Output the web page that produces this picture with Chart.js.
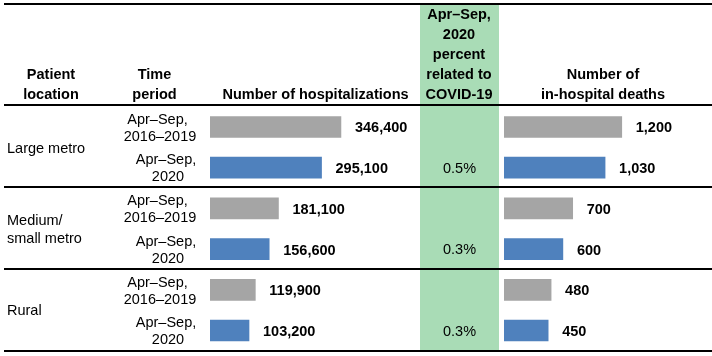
<!DOCTYPE html>
<html>
<head>
<meta charset="utf-8">
<script src="https://cdn.jsdelivr.net/npm/chart.js@4/dist/chart.umd.min.js"></script>
<style>
html,body{margin:0;padding:0;background:#fff;}
#wrap{position:relative;width:712px;height:356px;}
#wrap canvas{position:absolute;left:0;top:0;}
</style>
</head>
<body>
<div id="wrap">
<canvas id="c1" width="712" height="356"></canvas>
<canvas id="c2" width="712" height="356"></canvas>
</div>
<script>
// ---- data ----
const locations = [['Large metro'], ['Medium/', 'small metro'], ['Rural']];
const periods = [['Apr\u2013Sep,', '2016\u20132019'], ['Apr\u2013Sep,', '2020']];
const hospBaseline = [346400, 181100, 119900];
const hosp2020 = [295100, 156600, 103200];
const deathsBaseline = [1200, 700, 480];
const deaths2020 = [1030, 600, 450];
const covidPct = ['0.5%', '0.3%', '0.3%'];
const headerLocation = ['Patient', 'location'];
const headerPeriod = ['Time', 'period'];
const headerHosp = ['Number of hospitalizations'];
const headerPct = ['Apr\u2013Sep,', '2020', 'percent', 'related to', 'COVID-19'];
const headerDeaths = ['Number of', 'in-hospital deaths'];

const GRAY = '#A5A5A5', BLUE = '#4F81BD', GREEN = '#A9DCB6';
const FONT = '"Liberation Sans", Arial, sans-serif';
const FS = 14.5;

// rows: baseline & 2020 interleaved per location
const rowLabels = [];
const hospValues = [], deathValues = [], colors = [];
locations.forEach((loc, i) => {
  rowLabels.push(loc.join(' ') + ' ' + periods[0].join(' '));
  rowLabels.push(loc.join(' ') + ' ' + periods[1].join(' '));
  hospValues.push(hospBaseline[i], hosp2020[i]);
  deathValues.push(deathsBaseline[i], deaths2020[i]);
  colors.push(GRAY, BLUE);
});

const fmt = v => v.toLocaleString('en-US');

const valueLabels = {
  id: 'valueLabels',
  afterDatasetsDraw(chart) {
    const ctx = chart.ctx;
    const meta = chart.getDatasetMeta(0);
    ctx.save();
    ctx.font = 'bold ' + FS + 'px ' + FONT;
    ctx.fillStyle = '#000';
    ctx.textAlign = 'left';
    ctx.textBaseline = 'alphabetic';
    meta.data.forEach((bar, i) => {
      const v = chart.data.datasets[0].data[i];
      ctx.fillText(fmt(v), bar.x + 14, bar.y + 5.5);
    });
    ctx.restore();
  }
};

// table decorations (drawn on first chart, using its y scale for row positions)
const tablePlugin = {
  id: 'tablePlugin',
  beforeDraw(chart) {
    const ctx = chart.ctx;
    ctx.save();
    ctx.fillStyle = GREEN;
    ctx.fillRect(420, 4, 79, 348);
    ctx.restore();
  },
  afterDraw(chart) {
    const ctx = chart.ctx;
    const y = chart.scales.y;
    ctx.save();
    ctx.fillStyle = '#000';
    // lines
    const lines = [[3, 5], [104, 106], [186, 188], [268, 270], [350, 352]];
    lines.forEach(([a, b]) => ctx.fillRect(4, a, 708, b - a));

    // header text
    ctx.font = 'bold ' + FS + 'px ' + FONT;
    ctx.textAlign = 'center';
    ctx.textBaseline = 'alphabetic';
    const drawBlock = (arr, x, lastBaseline, step) => {
      const n = arr.length;
      arr.forEach((t, k) => ctx.fillText(t, x, lastBaseline - (n - 1 - k) * step));
    };
    drawBlock(headerLocation, 51, 99.3, 20);
    drawBlock(headerPeriod, 154.5, 99.3, 20);
    drawBlock(headerHosp, 315.5, 99.3, 20);
    drawBlock(headerPct, 459, 99.3, 20);
    drawBlock(headerDeaths, 603, 99.3, 20);

    // body text
    ctx.font = FS + 'px ' + FONT;
    locations.forEach((loc, i) => {
      const c0 = y.getPixelForValue(2 * i), c1 = y.getPixelForValue(2 * i + 1);
      const mid = (c0 + c1) / 2;
      // location
      ctx.textAlign = 'left';
      const step = 18.7;
      loc.forEach((t, k) => {
        const off = (k - (loc.length - 1) / 2) * step;
        ctx.fillText(t, 7, mid + off + 5.2);
      });
      // periods
      ctx.textAlign = 'center';
      ctx.fillText(periods[0][0], 157.5, c0 - 8.5 + 5.2);
      ctx.fillText(periods[0][1], 160, c0 + 8.5 + 5.2);
      ctx.fillText(periods[1][0], 166, c1 - 8.5 + 5.2);
      ctx.fillText(periods[1][1], 168, c1 + 8.5 + 5.2);
      // percent
      ctx.fillText(covidPct[i], 459.5, c1 + 5.2);
    });
    ctx.restore();
  }
};

function makeChart(id, values, max, padLeft, padRight, plugins) {
  return new Chart(document.getElementById(id), {
    type: 'bar',
    data: {
      labels: rowLabels,
      datasets: [{ data: values, backgroundColor: colors, borderWidth: 0, barThickness: 21 }]
    },
    options: {
      indexAxis: 'y',
      responsive: false,
      animation: false,
      events: [],
      layout: { padding: { left: padLeft, right: padRight, top: 106.6, bottom: 5.1 } },
      plugins: { legend: { display: false }, tooltip: { enabled: false } },
      scales: {
        x: { display: false, min: 0, max: max, grid: { display: false } },
        y: { display: false, grid: { display: false } }
      }
    },
    plugins: plugins
  });
}

makeChart('c1', hospValues, 500000, 210, 313, [tablePlugin, valueLabels]);
makeChart('c2', deathValues, 1500, 504, 60.8, [valueLabels]);
</script>
</body>
</html>
